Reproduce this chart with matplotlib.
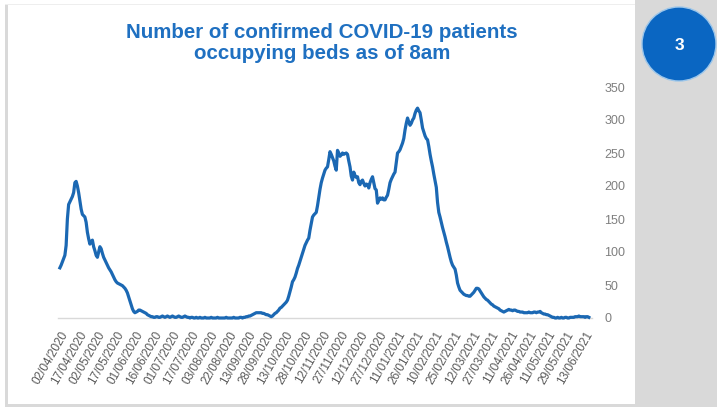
import matplotlib
matplotlib.use("Agg")
import matplotlib.pyplot as plt
from matplotlib.patches import Rectangle, Circle

title_text = "Number of confirmed COVID-19 patients\noccupying beds as of 8am"
badge_text = "3"

tick_labels = ["02/04/2020", "17/04/2020", "02/05/2020", "17/05/2020", "01/06/2020",
               "16/06/2020", "01/07/2020", "17/07/2020", "03/08/2020", "22/08/2020",
               "13/09/2020", "28/09/2020", "13/10/2020", "28/10/2020", "12/11/2020",
               "27/11/2020", "12/12/2020", "27/12/2020", "11/01/2021", "26/01/2021",
               "10/02/2021", "25/02/2021", "12/03/2021", "27/03/2021", "11/04/2021",
               "26/04/2021", "11/05/2021", "29/05/2021", "13/06/2021"]
tick_step = 15

patients = [
    76, 80, 85, 90, 95, 110, 150, 172, 176, 180,
    184, 190, 205, 207, 200, 190, 178, 165, 157, 155,
    153, 145, 130, 120, 112, 116, 118, 108, 102, 95,
    92, 100, 108, 105, 98, 92, 88, 84, 80, 76,
    73, 70, 66, 62, 58, 55, 53, 52, 51, 50,
    49, 47, 45, 42, 38, 32, 26, 20, 14, 10,
    8, 9, 10, 12, 12, 11, 10, 9, 8, 7,
    5, 4, 3, 2, 2, 1, 1, 2, 2, 1,
    1, 2, 3, 2, 1, 2, 3, 2, 1, 2,
    3, 2, 1, 1, 2, 3, 2, 1, 1, 2,
    3, 2, 1, 1, 0, 1, 1, 0, 0, 1,
    0, 0, 1, 0, 0, 0, 1, 0, 0, 0,
    0, 1, 0, 0, 0, 0, 1, 0, 0, 0,
    0, 0, 0, 1, 0, 0, 0, 0, 0, 1,
    0, 0, 0, 0, 1, 1, 0, 1, 1, 2,
    2, 3, 3, 4, 5, 6, 7, 8, 8, 8,
    8, 8, 7, 7, 6, 5, 5, 4, 3, 2,
    3, 5, 7, 8, 10, 12, 15, 16, 18, 20,
    22, 24, 27, 33, 40, 47, 55, 58, 62, 68,
    75, 80, 86, 92, 98, 104, 110, 114, 118, 121,
    133, 143, 153, 156, 158, 160, 170, 183, 195, 205,
    212, 218, 224, 227, 229, 240, 252, 248, 243, 238,
    230, 224, 254, 250, 245, 247, 250, 248, 249, 250,
    248, 238, 229, 215, 209, 221, 216, 213, 214, 205,
    202, 207, 209, 204, 200, 203, 202, 197, 205, 210,
    214, 205, 196, 194, 174, 178, 182, 180, 182, 179,
    179, 183, 186, 195, 205, 210, 214, 218, 221, 235,
    250, 252, 255, 260, 265, 272, 285, 295, 303, 297,
    292, 295, 300, 303, 310, 315, 318, 314, 311, 300,
    288, 282, 276, 272, 270, 260, 248, 238, 229, 218,
    208, 198, 175, 160, 153, 145, 137, 130, 123, 115,
    108, 100, 92, 85, 80, 77, 74, 65, 53, 47,
    42, 40, 38, 36, 35, 34, 34, 33, 33, 35,
    37, 39, 42, 45, 45, 44, 41, 38, 35, 32,
    30, 28, 27, 25, 23, 21, 20, 18, 17, 16,
    15, 14, 12, 11, 10, 9, 10, 11, 12, 13,
    12, 12, 11, 12, 12, 11, 10, 10, 9, 9,
    9, 8, 8, 8, 8, 9, 8, 8, 8, 9,
    9, 8, 9, 9, 10, 8, 7, 6, 6, 5,
    5, 4, 3, 2, 1, 1, 0, 0, 1, 0,
    0, 1, 0, 0, 1, 1, 0, 0, 1, 1,
    1, 1, 2, 2, 2, 3, 2, 2, 2, 2,
    1, 2, 2, 1,
]
y_ticks = [0, 50, 100, 150, 200, 250, 300, 350]

W, H = 717, 407
fig = plt.figure(figsize=(W / 100, H / 100), dpi=100)
fig.patch.set_facecolor("white")

def fx(px):
    return px / W

def fy(py):
    return 1 - py / H

# Frame decorations
fig.patches.append(Rectangle((fx(635), 0), fx(W - 635), 1, transform=fig.transFigure,
                             facecolor="#d9d9d9", edgecolor="none", zorder=0))
fig.patches.append(Rectangle((fx(5), 0), fx(3), fy(5), transform=fig.transFigure,
                             facecolor="#d9d9d9", edgecolor="none", zorder=0))
fig.patches.append(Rectangle((fx(5), fy(5)), fx(630), 1 / H, transform=fig.transFigure,
                             facecolor="#eeeeee", edgecolor="none", zorder=0))
fig.patches.append(Rectangle((fx(5), 0), fx(630), 3 / H, transform=fig.transFigure,
                             facecolor="#d9d9d9", edgecolor="none", zorder=0))

# Axes
left_px, right_px, top_px, bottom_px = 58, 592, 87, 318
ax = fig.add_axes([fx(left_px), fy(bottom_px), fx(right_px - left_px), (bottom_px - top_px) / H])
ax.set_facecolor("none")

x = list(range(len(patients)))
ax.plot(x, patients, color="#1b68b3", lw=2.3, solid_joinstyle="round", clip_on=False, zorder=3)

ax.set_xlim(-1.5, 425.5)
ax.set_ylim(0, 350)

ax.yaxis.tick_right()
ax.set_yticks(y_ticks)
ax.set_yticklabels([str(v) for v in y_ticks])
ax.tick_params(axis="y", length=0, pad=9, labelsize=9, labelcolor="#7f7f7f")
for lbl in ax.get_yticklabels():
    lbl.set_family("Liberation Sans")

ax.set_xticks([i * tick_step for i in range(len(tick_labels))])
ax.set_xticklabels(tick_labels, rotation=60, ha="right", va="top",
                   rotation_mode="anchor", fontsize=8.5, color="#595959",
                   family="Liberation Sans")
ax.tick_params(axis="x", length=0, pad=8)

for side in ["left", "right", "top"]:
    ax.spines[side].set_visible(False)
ax.spines["bottom"].set_color("#d9d9d9")
ax.spines["bottom"].set_linewidth(1.0)

# Title
fig.text(fx(322), fy(43), title_text, ha="center", va="center", fontsize=14.8,
         fontweight="bold", color="#1f70c1", family="Liberation Sans", linespacing=1.08)

# Badge
circ = Circle((679, H - 44), 37, transform=None, facecolor="#0a66c2",
              edgecolor="#9cc6ea", lw=1.0, zorder=5)
fig.patches.append(circ)
fig.text(fx(679), fy(45), badge_text, ha="center", va="center", fontsize=12.5,
         fontweight="bold", color="white", family="Liberation Sans", zorder=6)

fig.savefig("out.png", dpi=100)
